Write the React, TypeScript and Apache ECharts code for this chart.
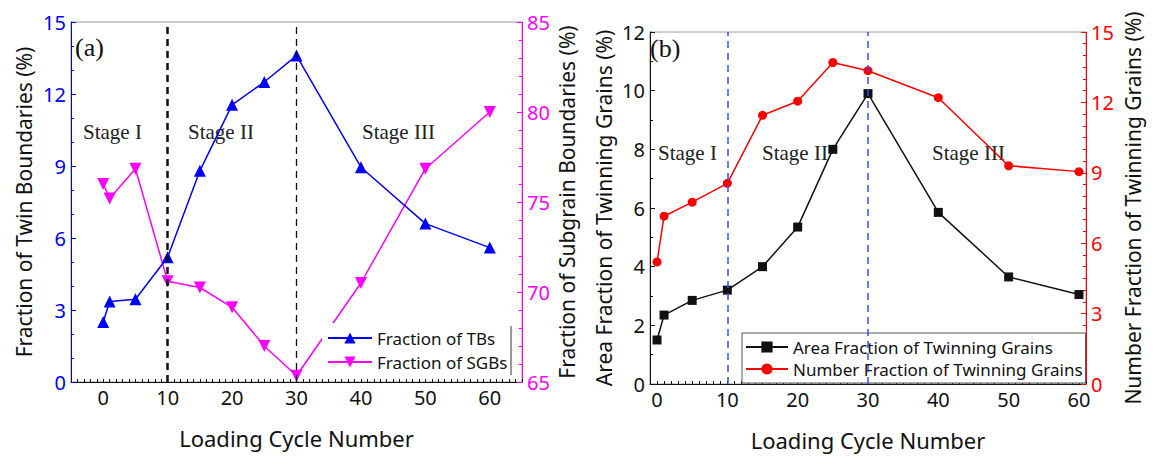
import React, { useEffect, useRef } from "react";
import * as echarts from "echarts";

const cycles = [0, 1, 5, 10, 15, 20, 25, 30, 40, 50, 60];
const tbsFraction = [2.5, 3.35, 3.45, 5.2, 8.8, 11.55, 12.5, 13.6, 8.95, 6.6, 5.6];
const sgbsFraction = [76.0, 75.2, 76.85, 70.6, 70.25, 69.15, 67.0, 65.35, 70.5, 76.85, 80.0];
const areaFraction = [1.5, 2.35, 2.85, 3.2, 4.0, 5.35, 8.0, 9.9, 5.85, 3.65, 3.05];
const numberFraction = [5.2, 7.15, 7.75, 8.55, 11.45, 12.05, 13.7, 13.35, 12.2, 9.3, 9.05];
const stageBoundaries = [10, 30];
const stageNames = ["Stage I", "Stage II", "Stage III"];

const SANS = "'Noto Sans', 'Open Sans', sans-serif";
const SERIF = "'Liberation Serif', 'DejaVu Serif', serif";

const pairs = (xs: number[], ys: number[]) => xs.map((x, i) => [x, ys[i]]);

export default function App() {
  const ref = useRef<HTMLDivElement>(null);
  useEffect(() => {
    if (!ref.current) return;
    const chart = echarts.init(ref.current, undefined, { renderer: "svg" });

    const xAxisBase = (gridIndex: number, min: number, max: number) => ({
      type: "value",
      gridIndex,
      min,
      max,
      interval: 1,
      name: "Loading Cycle Number",
      nameLocation: "middle",
      nameGap: 45,
      nameTextStyle: { color: "#111", fontSize: 22, fontFamily: SANS },
      axisLine: { show: true, onZero: false, lineStyle: { color: "#111", width: 1 } },
      axisTick: { show: true, inside: true, length: 3, lineStyle: { color: "#111" } },
      axisLabel: {
        color: "#111",
        fontSize: 20,
        fontFamily: SANS,
        margin: 5,
        formatter: (v: number) => (v % 10 === 0 && v >= 0 && v <= 60 ? String(v) : ""),
      },
      splitLine: { show: false },
    });

    const yAxisBase = (
      gridIndex: number,
      position: string,
      min: number,
      max: number,
      interval: number,
      minorSplit: number,
      color: string,
      name: string,
      nameGap: number
    ) => ({
      type: "value",
      gridIndex,
      position,
      min,
      max,
      interval,
      name,
      nameLocation: "middle",
      nameGap,
      nameTextStyle: { color: "#111", fontSize: 21, fontFamily: SANS },
      axisLine: { show: true, onZero: false, lineStyle: { color, width: 1 } },
      axisTick: { show: true, inside: true, length: 5, lineStyle: { color } },
      minorTick: { show: true, splitNumber: minorSplit, length: 3, lineStyle: { color } },
      axisLabel: { color, fontSize: 20, fontFamily: SANS, margin: 5 },
      splitLine: { show: false },
      minorSplitLine: { show: false },
    });

    const vLines = (color: string, widths: number[], dash: number[]) => ({
      silent: true,
      symbol: ["none", "none"],
      label: { show: false },
      animation: false,
      data: stageBoundaries.map((x, i) => ({
        xAxis: x,
        lineStyle: { color, width: widths[i], type: dash },
      })),
    });

    const stageText = (x: number, y: number, text: string) => ({
      type: "text",
      x,
      y,
      style: {
        text,
        fill: "#222",
        font: `21px ${SERIF}`,
        verticalAlign: "middle",
      },
    });

    const stageXA = [83, 188, 362];
    const stageXB = [658, 762, 932];

    const option: any = {
      animation: false,
      backgroundColor: "#fff",
      grid: [
        { left: 71, top: 22, width: 451, height: 360, show: true, borderColor: "#999", borderWidth: 1, backgroundColor: "transparent" },
        { left: 650, top: 32, width: 436, height: 352, show: true, borderColor: "#999", borderWidth: 1, backgroundColor: "transparent" },
      ],
      xAxis: [xAxisBase(0, -5, 65), xAxisBase(1, -1, 61)],
      yAxis: [
        yAxisBase(0, "left", 0, 15, 3, 3, "#0000ff", "Fraction of Twin Boundaries (%)", 37),
        yAxisBase(0, "right", 65, 85, 5, 5, "#ff00ff", "Fraction of Subgrain Boundaries (%)", 34),
        yAxisBase(1, "left", 0, 12, 2, 2, "#111", "Area Fraction of Twinning Grains (%)", 36),
        yAxisBase(1, "right", 0, 15, 3, 6, "#ff0000", "Number Fraction of Twinning Grains (%)", 36),
      ],
      legend: [
        {
          data: ["Fraction of TBs", "Fraction of SGBs"],
          orient: "vertical",
          left: 322,
          top: 323,
          padding: [5, 4, 5, 5],
          itemWidth: 44,
          itemHeight: 14,
          itemGap: 4,
          backgroundColor: "#fff",
          borderWidth: 0,
          textStyle: { color: "#111", fontSize: 17, fontFamily: SANS, lineHeight: 20 },
        },
        {
          data: ["Area Fraction of Twinning Grains", "Number Fraction of Twinning Grains"],
          orient: "vertical",
          left: 742,
          top: 333,
          padding: [4, 3, 4, 3],
          itemWidth: 42,
          itemHeight: 14,
          itemGap: 2,
          backgroundColor: "#fff",
          borderColor: "#555",
          borderWidth: 1,
          textStyle: { color: "#111", fontSize: 17, fontFamily: SANS, lineHeight: 20 },
        },
      ],
      series: [
        {
          name: "Fraction of SGBs",
          type: "line",
          xAxisIndex: 0,
          yAxisIndex: 1,
          data: pairs(cycles, sgbsFraction),
          symbol: "triangle",
          symbolRotate: 180,
          symbolSize: 12,
          lineStyle: { color: "#ff00ff", width: 1.5 },
          itemStyle: { color: "#ff00ff" },
          z: 2,
        },
        {
          name: "Fraction of TBs",
          type: "line",
          xAxisIndex: 0,
          yAxisIndex: 0,
          data: pairs(cycles, tbsFraction),
          symbol: "triangle",
          symbolSize: 12,
          lineStyle: { color: "#0000ff", width: 1.5 },
          itemStyle: { color: "#0000ff" },
          markLine: vLines("#111", [2.5, 1.3], [7, 5]),
          z: 3,
        },
        {
          name: "Number Fraction of Twinning Grains",
          type: "line",
          xAxisIndex: 1,
          yAxisIndex: 3,
          data: pairs(cycles, numberFraction),
          symbol: "circle",
          symbolSize: 9,
          lineStyle: { color: "#ff0000", width: 1.5 },
          itemStyle: { color: "#ff0000" },
          z: 2,
        },
        {
          name: "Area Fraction of Twinning Grains",
          type: "line",
          xAxisIndex: 1,
          yAxisIndex: 2,
          data: pairs(cycles, areaFraction),
          symbol: "rect",
          symbolSize: 9,
          lineStyle: { color: "#111", width: 1.5 },
          itemStyle: { color: "#111" },
          markLine: vLines("#3050ff", [1.5, 1.5], [7, 5]),
          z: 3,
        },
      ],
      graphic: [
        { type: "text", x: 75, y: 47, style: { text: "(a)", fill: "#111", font: `26px ${SERIF}`, verticalAlign: "middle" } },
        { type: "text", x: 650, y: 48, style: { text: "(b)", fill: "#111", font: `26px ${SERIF}`, verticalAlign: "middle" } },
        ...stageNames.map((s, i) => stageText(stageXA[i], 132, s)),
        ...stageNames.map((s, i) => stageText(stageXB[i], 153, s)),
        { type: "line", shape: { x1: 511, y1: 326, x2: 511, y2: 375 }, style: { stroke: "#333", lineWidth: 1 }, z: 100 },
      ],
    };

    chart.setOption(option);
    return () => chart.dispose();
  }, []);

  return (
    <div
      ref={ref}
      style={{ position: "fixed", left: 0, top: 0, width: 1155, height: 457, background: "#fff" }}
    />
  );
}
